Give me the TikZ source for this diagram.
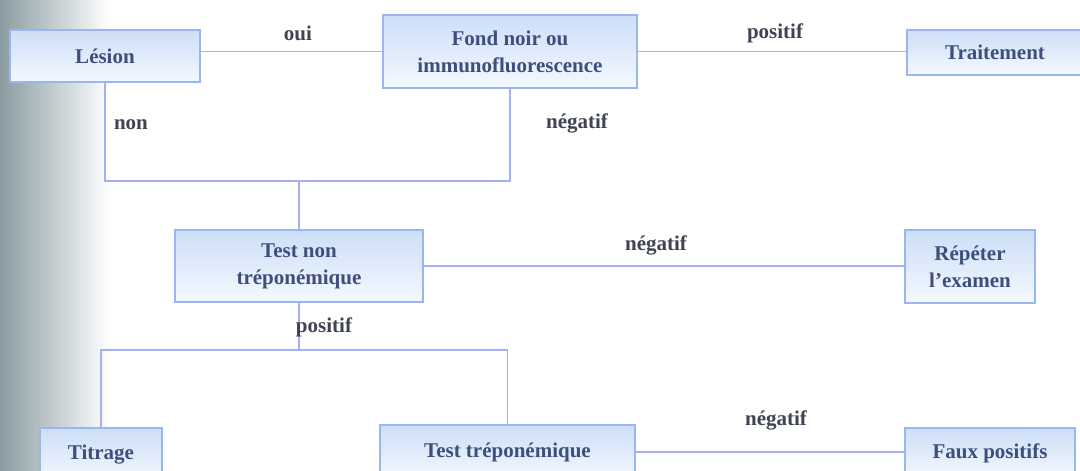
\documentclass[tikz,border=0pt]{standalone}
\usepackage{fontspec}
\setmainfont{Liberation Serif}
\usetikzlibrary{calc}
\definecolor{boxtext}{HTML}{3F4F7C}
\definecolor{labtext}{HTML}{3F4352}
\definecolor{linecol}{HTML}{A4B0F2}
\definecolor{boxborder}{HTML}{99B6EE}
\definecolor{boxtop}{HTML}{CCDEF7}
\definecolor{boxbot}{HTML}{F4F9FF}
\definecolor{stripgray}{HTML}{8A9CA2}
\tikzset{
  flowbox/.style={draw=boxborder, line width=1.8pt, top color=boxtop, bottom color=boxbot,
    inner sep=0pt, align=center, text=boxtext, font=\fontsize{21}{27}\selectfont\bfseries},
  conn/.style={draw=linecol, line width=1.8pt},
  lab/.style={text=labtext, font=\fontsize{21}{25}\selectfont\bfseries, inner sep=0pt}
}
\begin{document}
\begin{tikzpicture}[x=1pt,y=-1pt]
\clip (0,0) rectangle (1080,471);
\useasboundingbox (0,0) rectangle (1080,471);
\fill[white] (0,0) rectangle (1080,471);
\shade[left color=stripgray, right color=white] (0,0) rectangle (110,471);
% nodes
\node[flowbox, minimum width=190, minimum height=52] (lesion) at (105,56) {Lésion};
\node[flowbox, minimum width=254, minimum height=73] (fond) at (510,51.5) {Fond noir ou\\immunofluorescence};
\node[flowbox, minimum width=176, minimum height=45] (trait) at (995,52.5) {Traitement};
\node[flowbox, minimum width=248, minimum height=72] (testnon) at (299,266) {Test non\\tréponémique};
\node[flowbox, minimum width=130, minimum height=73] (repeter) at (970,266.5) {Répéter\\l'examen};
\node[flowbox, minimum width=122, minimum height=54] (titrage) at (101,455) {Titrage};
\node[flowbox, minimum width=255, minimum height=54] (testtrep) at (507.5,452) {Test tréponémique};
\node[flowbox, minimum width=170, minimum height=50] (faux) at (990,453) {Faux positifs};
% junctions
\coordinate (j1) at (299,181);
\coordinate (j2) at (299,350);
% connectors
\draw[conn] (fond.west) -- (fond.west -| lesion.east);
\draw[conn] (fond.east) -- (fond.east -| trait.west);
\draw[conn] (lesion.south) |- (j1) -| (fond.south);
\draw[conn] (j1) -- (testnon.north);
\draw[conn] (testnon.east) -- (testnon.east -| repeter.west);
\draw[conn] (testnon.south) -- (j2);
\draw[conn] (titrage.north) |- (j2) -| (testtrep.north);
\draw[conn] (testtrep.east) -- (testtrep.east -| faux.west);
% labels
\node[lab] (l1) at (298,33) {oui};
\node[lab] (l2) at (775,33) {positif};
\node[lab] (l3) at (131,125) {non};
\node[lab] (l4) at (577,123) {négatif};
\node[lab] (l5) at (656,245) {négatif};
\node[lab] (l6) at (324,327) {positif};
\node[lab] (l7) at (776,420) {négatif};
\end{tikzpicture}
\end{document}
